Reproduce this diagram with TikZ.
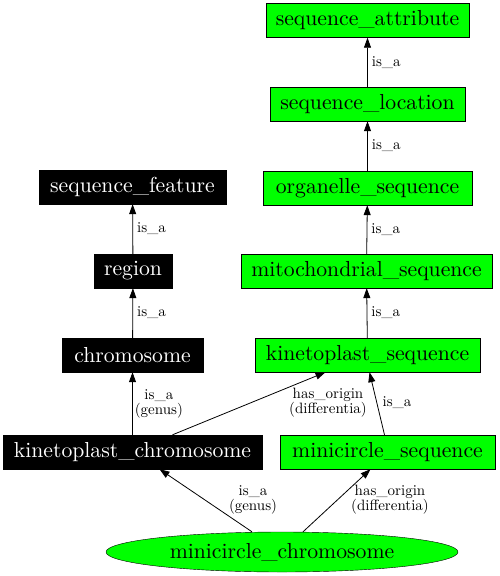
\documentclass[tikz,border=0pt]{standalone}
\usepackage{fontspec}
\setmainfont{lmroman10-regular}[Extension=.otf]
\usetikzlibrary{arrows.meta,shapes.geometric}
\tikzset{
  nfont/.style={font=\fontsize{21.7}{23}\selectfont},
  gbox/.style={draw=black, fill=green, minimum height=34pt, inner xsep=3pt, inner ysep=0pt, nfont, text=black},
  bbox/.style={draw=black, fill=black, minimum height=34pt, inner xsep=3pt, inner ysep=0pt, nfont, text=white},
  oval/.style={draw=black, fill=green, ellipse, minimum width=352pt, minimum height=40pt, inner sep=0pt, nfont},
  edge/.style={draw=black, line width=0.8pt, -{Triangle[length=10pt,width=7pt]}},
  lbl/.style={font=\fontsize{15}{15}\selectfont, align=center, inner sep=0pt}
}
\begin{document}
\begin{tikzpicture}[x=1pt,y=-1pt]
\useasboundingbox (0,0) rectangle (499,576);
\node[gbox, minimum width=203pt] (sa) at (367.5,20.5) {sequence\_attribute};
\node[gbox, minimum width=195pt] (sl) at (367.5,104) {sequence\_location};
\node[gbox, minimum width=209pt] (os) at (367.5,188) {organelle\_sequence};
\node[gbox, minimum width=251pt] (ms) at (366.5,271) {mitochondrial\_sequence};
\node[gbox, minimum width=225pt] (ks) at (367.5,355) {kinetoplast\_sequence};
\node[gbox, minimum width=215pt] (mcs) at (387.5,452) {minicircle\_sequence};
\node[bbox, minimum width=187pt] (sf) at (132.5,187) {sequence\_feature};
\node[bbox, minimum width=78pt] (rg) at (133,271) {region};
\node[bbox, minimum width=141pt] (ch) at (132.5,355) {chromosome};
\node[bbox, minimum width=259pt] (kc) at (132.5,452) {kinetoplast\_chromosome};
\node[oval] (mc) at (282,552) {minicircle\_chromosome};

\draw[edge] (sl) -- (sa) node[lbl, pos=0.5, right=4pt] {is\_a};
\draw[edge] (os) -- (sl) node[lbl, pos=0.5, right=4pt] {is\_a};
\draw[edge] (ms) -- (os) node[lbl, pos=0.5, right=4pt] {is\_a};
\draw[edge] (ks) -- (ms) node[lbl, pos=0.5, right=4pt] {is\_a};
\draw[edge] (rg) -- (sf) node[lbl, pos=0.5, right=4pt] {is\_a};
\draw[edge] (ch) -- (rg) node[lbl, pos=0.5, right=4pt] {is\_a};
\draw[edge] (kc.north) -- (ch.south) node[lbl, pos=0.5, right=2pt] {is\_a\\(genus)};
\draw[edge] ([xshift=40pt]kc.north) -- ([xshift=-42pt]ks.south);
\node[lbl] (l1) at (328,403) {has\_origin\\(differentia)};
\draw[edge] ([xshift=-3pt]mcs.north) -- ([xshift=2pt]ks.south);
\node[lbl] (l2) at (397,403) {is\_a};
\draw[edge] ([xshift=-30pt]mc.north) -- ([xshift=27pt]kc.south);
\node[lbl] (l3) at (253,500) {is\_a\\(genus)};
\draw[edge] ([xshift=21pt]mc.north) -- ([xshift=-17pt]mcs.south);
\node[lbl] (l4) at (390,500) {has\_origin\\(differentia)};
\end{tikzpicture}
\end{document}
